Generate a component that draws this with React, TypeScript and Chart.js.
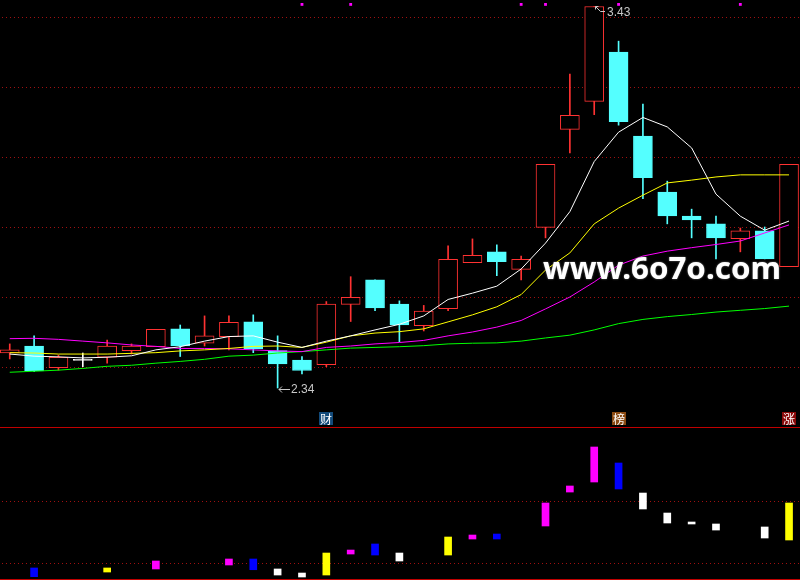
import React, { useEffect, useRef } from "react";
import { Chart, registerables } from "chart.js";

Chart.register(...registerables);

// ---- price data (one candle per trading day) ----
const openP = [2.440, 2.460, 2.398, 2.419, 2.428, 2.447, 2.458, 2.509, 2.468, 2.487, 2.529, 2.447, 2.420, 2.407, 2.579, 2.649, 2.580, 2.518, 2.567, 2.698, 2.729, 2.679, 2.799, 3.079, 3.159, 3.300, 3.060, 2.900, 2.831, 2.809, 2.767, 2.789, 2.687];
const highP = [2.466, 2.489, 2.434, 2.440, 2.477, 2.466, 2.508, 2.520, 2.546, 2.546, 2.549, 2.489, 2.430, 2.587, 2.658, 2.649, 2.589, 2.576, 2.746, 2.766, 2.749, 2.717, 2.979, 3.237, 3.430, 3.331, 3.151, 2.931, 2.851, 2.831, 2.797, 2.800, 2.979];
const lowP = [2.423, 2.387, 2.391, 2.401, 2.411, 2.437, 2.458, 2.430, 2.460, 2.449, 2.441, 2.340, 2.380, 2.401, 2.530, 2.561, 2.472, 2.503, 2.561, 2.698, 2.661, 2.649, 2.769, 3.012, 3.121, 3.091, 2.881, 2.809, 2.769, 2.709, 2.729, 2.709, 2.687];
const closeP = [2.449, 2.389, 2.428, 2.419, 2.460, 2.460, 2.508, 2.460, 2.489, 2.528, 2.452, 2.409, 2.390, 2.580, 2.599, 2.569, 2.520, 2.560, 2.708, 2.719, 2.701, 2.708, 2.979, 3.119, 3.430, 3.101, 2.941, 2.832, 2.820, 2.769, 2.789, 2.709, 2.979];

// ---- moving averages ----
const ma5 = [2.437, 2.431, 2.429, 2.426, 2.428, 2.432, 2.449, 2.458, 2.474, 2.487, 2.489, 2.471, 2.456, 2.474, 2.489, 2.506, 2.522, 2.546, 2.593, 2.611, 2.631, 2.680, 2.754, 2.844, 2.987, 3.071, 3.113, 3.086, 3.026, 2.894, 2.831, 2.791, 2.817];
const ma10 = [2.441, 2.440, 2.437, 2.437, 2.437, 2.439, 2.441, 2.446, 2.449, 2.453, 2.459, 2.460, 2.456, 2.471, 2.489, 2.497, 2.501, 2.509, 2.529, 2.549, 2.572, 2.607, 2.677, 2.726, 2.809, 2.854, 2.891, 2.926, 2.934, 2.943, 2.949, 2.949, 2.949];
const ma20 = [2.481, 2.482, 2.479, 2.474, 2.469, 2.463, 2.459, 2.453, 2.453, 2.452, 2.449, 2.446, 2.444, 2.456, 2.460, 2.466, 2.470, 2.476, 2.489, 2.500, 2.514, 2.533, 2.566, 2.600, 2.643, 2.691, 2.717, 2.731, 2.741, 2.750, 2.760, 2.783, 2.806];
const ma60 = [2.385, 2.388, 2.391, 2.396, 2.402, 2.405, 2.411, 2.416, 2.422, 2.431, 2.434, 2.440, 2.444, 2.449, 2.454, 2.456, 2.458, 2.461, 2.466, 2.468, 2.469, 2.474, 2.483, 2.491, 2.506, 2.524, 2.536, 2.544, 2.550, 2.557, 2.562, 2.567, 2.574];

// ---- signals / tags ----
const signalDays = [12, 14, 21, 22, 25, 30];
const signalLevel = 3.436;
const tagDays = [13, 25, 32];
const tagTexts = ["财", "榜", "涨"];
const tagColors = ["#124a7a", "#8a4a12", "#8a0a0a"];
const priceTicks = [2.4, 2.6, 2.8, 3.0, 3.2, 3.4];

// ---- lower indicator (floating bars) ----
const indLow = [null, -21.5, null, null, -14.0, null, -9.1, null, null, -2.7, -10.3, -18.8, -22.0, -18.8, 14.9, 13.3, 3.7, null, 13.3, 39.0, 39.0, null, 59.9, 114.4, 130.5, 119.3, 87.2, 64.7, 63.1, 53.4, null, 40.6, 37.4];
const indHigh = [null, -7.5, null, null, -7.5, null, 3.7, null, null, 6.9, 6.9, -9.1, -15.6, 16.5, 21.3, 31.0, 16.5, null, 42.2, 45.4, 47.0, null, 96.8, 124.1, 186.7, 161.0, 112.8, 80.7, 66.3, 63.1, null, 58.3, 96.8];
const indKind = ["", "b", "", "", "y", "", "m", "", "", "m", "b", "w", "w", "y", "m", "b", "w", "", "y", "m", "b", "", "m", "m", "m", "b", "w", "w", "w", "w", "", "w", "y"];
const indTicks = [0, 100];

const RED = "#ff3232";
const CYAN = "#54ffff";
const GRID = "#a01010";
const kindColor: Record<string, string> = { b: "#0000ff", y: "#ffff00", m: "#ff00ff", w: "#ffffff", "": "#000000" };

const candleColor = (i: number) =>
  closeP[i] > openP[i] ? RED : closeP[i] < openP[i] ? CYAN : "#ffffff";

const drawDotted = (chart: any, ticks: number[]) => {
  const { ctx, chartArea } = chart;
  const y = chart.scales.y;
  ctx.save();
  ctx.fillStyle = GRID;
  ticks.forEach((v) => {
    const py = Math.round(y.getPixelForValue(v));
    for (let px = chartArea.left + 2; px < chartArea.right; px += 4) {
      ctx.fillRect(px, py, 1, 1);
    }
  });
  ctx.restore();
};

const topDecor = {
  id: "topDecor",
  beforeDatasetsDraw(chart: any) {
    drawDotted(chart, priceTicks);
  },
  afterDatasetsDraw(chart: any) {
    const { ctx, chartArea } = chart;
    const x = chart.scales.x;
    const y = chart.scales.y;
    ctx.save();
    // extreme price labels
    let hi = 0;
    let lo = 0;
    highP.forEach((v, i) => { if (v > highP[hi]) hi = i; });
    lowP.forEach((v, i) => { if (v < lowP[lo]) lo = i; });
    ctx.strokeStyle = "#c8c8c8";
    ctx.fillStyle = "#c8c8c8";
    ctx.lineWidth = 1;
    ctx.font = '12px "Liberation Sans"';
    ctx.textBaseline = "middle";
    ctx.textAlign = "left";
    const lx = Math.round(x.getPixelForValue(lo));
    const ly = Math.round(y.getPixelForValue(lowP[lo])) + 1;
    ctx.beginPath();
    ctx.moveTo(lx + 1, ly + 0.5);
    ctx.lineTo(lx + 12, ly + 0.5);
    ctx.moveTo(lx + 1, ly + 0.5);
    ctx.lineTo(lx + 4, ly - 2.5);
    ctx.moveTo(lx + 1, ly + 0.5);
    ctx.lineTo(lx + 4, ly + 3.5);
    ctx.stroke();
    ctx.fillText(lowP[lo].toFixed(2), lx + 13, ly + 1);
    const hx = Math.round(x.getPixelForValue(hi));
    const hy = Math.round(y.getPixelForValue(highP[hi]));
    ctx.beginPath();
    ctx.moveTo(hx + 1.5, hy - 0.5);
    ctx.lineTo(hx + 6.5, hy + 4.5);
    ctx.lineTo(hx + 11, hy + 4.5);
    ctx.moveTo(hx + 1.5, hy - 0.5);
    ctx.lineTo(hx + 1.5, hy + 2.5);
    ctx.moveTo(hx + 1.5, hy - 0.5);
    ctx.lineTo(hx + 4.5, hy - 0.5);
    ctx.stroke();
    ctx.fillText(highP[hi].toFixed(2), hx + 13, hy + 6);

    // tags
    ctx.font = '12px "Noto Sans CJK SC"';
    ctx.textAlign = "center";
    tagDays.forEach((d, k) => {
      const cx = x.getPixelForValue(d);
      let left = Math.round(cx - 7);
      if (left + 15 > chartArea.right) left = chartArea.right - 18;
      const top = chartArea.bottom - 15;
      ctx.fillStyle = tagColors[k];
      ctx.fillRect(left, top, 14, 13);
      ctx.fillStyle = "#ffffff";
      ctx.fillText(tagTexts[k], left + 7, top + 7);
    });

    // watermark
    const text = "www.6o7o.com";
    ctx.font = 'bold 31px "Noto Sans"';
    ctx.textAlign = "left";
    ctx.textBaseline = "alphabetic";
    const w = ctx.measureText(text).width;
    ctx.translate(543, 279);
    ctx.scale(238 / w, 1);
    ctx.shadowColor = "rgba(140,140,140,0.9)";
    ctx.shadowBlur = 2;
    ctx.fillStyle = "#ffffff";
    ctx.fillText(text, 0, 0);
    ctx.restore();
  },
};

const bottomDecor = {
  id: "bottomDecor",
  beforeDatasetsDraw(chart: any) {
    drawDotted(chart, indTicks);
    const { ctx, chartArea } = chart;
    ctx.save();
    ctx.strokeStyle = "#c00000";
    ctx.lineWidth = 1;
    ctx.beginPath();
    ctx.moveTo(0, chartArea.top + 0.5);
    ctx.lineTo(chartArea.right, chartArea.top + 0.5);
    ctx.moveTo(0, chartArea.bottom - 0.5);
    ctx.lineTo(chartArea.right, chartArea.bottom - 0.5);
    ctx.stroke();
    ctx.restore();
  },
};

const hiddenY = {
  display: false,
};

export default function App() {
  const topRef = useRef<HTMLCanvasElement>(null);
  const botRef = useRef<HTMLCanvasElement>(null);

  useEffect(() => {
    const idx = openP.map((_, i) => i);
    const xScale = { type: "linear" as const, min: -0.4, max: 32.45, offset: false, display: false };
    const common = {
      responsive: false,
      animation: false as const,
      events: [] as any[],
      layout: { padding: 0, autoPadding: false },
      plugins: { legend: { display: false }, tooltip: { enabled: false } },
    };

    const line = (data: number[], color: string) => ({
      type: "line" as const,
      data: idx.map((i) => ({ x: i, y: data[i] })),
      borderColor: color,
      borderWidth: 1,
      pointRadius: 0,
      tension: 0,
      order: 0,
    });

    const top = new Chart(topRef.current!, {
      type: "bar",
      data: {
        datasets: [
          line(ma5, "#ffffff") as any,
          line(ma10, "#ffff00") as any,
          line(ma20, "#ff00ff") as any,
          line(ma60, "#00ff00") as any,
          {
            type: "scatter",
            data: signalDays.map((d) => ({ x: d, y: signalLevel })),
            pointStyle: "rect",
            pointRadius: 2,
            backgroundColor: "#ff00ff",
            borderWidth: 0,
            order: 0,
          } as any,
          {
            type: "bar",
            data: idx.map((i) => ({ x: i, y: [openP[i], closeP[i]] })),
            backgroundColor: idx.map((i) => (closeP[i] > openP[i] ? "#000000" : candleColor(i))),
            borderColor: idx.map((i) => candleColor(i)),
            borderWidth: 1,
            borderSkipped: false,
            barThickness: 19,
            minBarLength: 1,
            grouped: false,
            order: 1,
          } as any,
          {
            type: "bar",
            data: idx.map((i) => ({ x: i, y: [lowP[i], highP[i]] })),
            backgroundColor: idx.map((i) => candleColor(i)),
            borderWidth: 0,
            barThickness: 1,
            grouped: false,
            order: 2,
          } as any,
        ],
      },
      options: {
        ...common,
        scales: {
          x: xScale,
          y: { min: 2.2286, max: 3.4486, ...hiddenY } as any,
        },
      } as any,
      plugins: [topDecor],
    });

    const bot = new Chart(botRef.current!, {
      type: "bar",
      data: {
        datasets: [
          {
            data: idx
              .filter((i) => indLow[i] !== null)
              .map((i) => ({ x: i, y: [indLow[i] as number, indHigh[i] as number] })),
            backgroundColor: idx.filter((i) => indLow[i] !== null).map((i) => kindColor[indKind[i]]),
            borderWidth: 0,
            barThickness: 7,
            grouped: false,
          } as any,
        ],
      },
      options: {
        ...common,
        scales: {
          x: xScale,
          y: { min: -26.8, max: 218.8, ...hiddenY } as any,
        },
      } as any,
      plugins: [bottomDecor],
    });

    return () => {
      top.destroy();
      bot.destroy();
    };
  }, []);

  return (
    <div style={{ position: "fixed", left: 0, top: 0, width: 800, height: 580, background: "#000", overflow: "hidden" }}>
      <canvas ref={topRef} width={800} height={427} style={{ position: "absolute", left: 0, top: 0, width: 800, height: 427 }} />
      <canvas ref={botRef} width={800} height={153} style={{ position: "absolute", left: 0, top: 427, width: 800, height: 153 }} />
    </div>
  );
}
